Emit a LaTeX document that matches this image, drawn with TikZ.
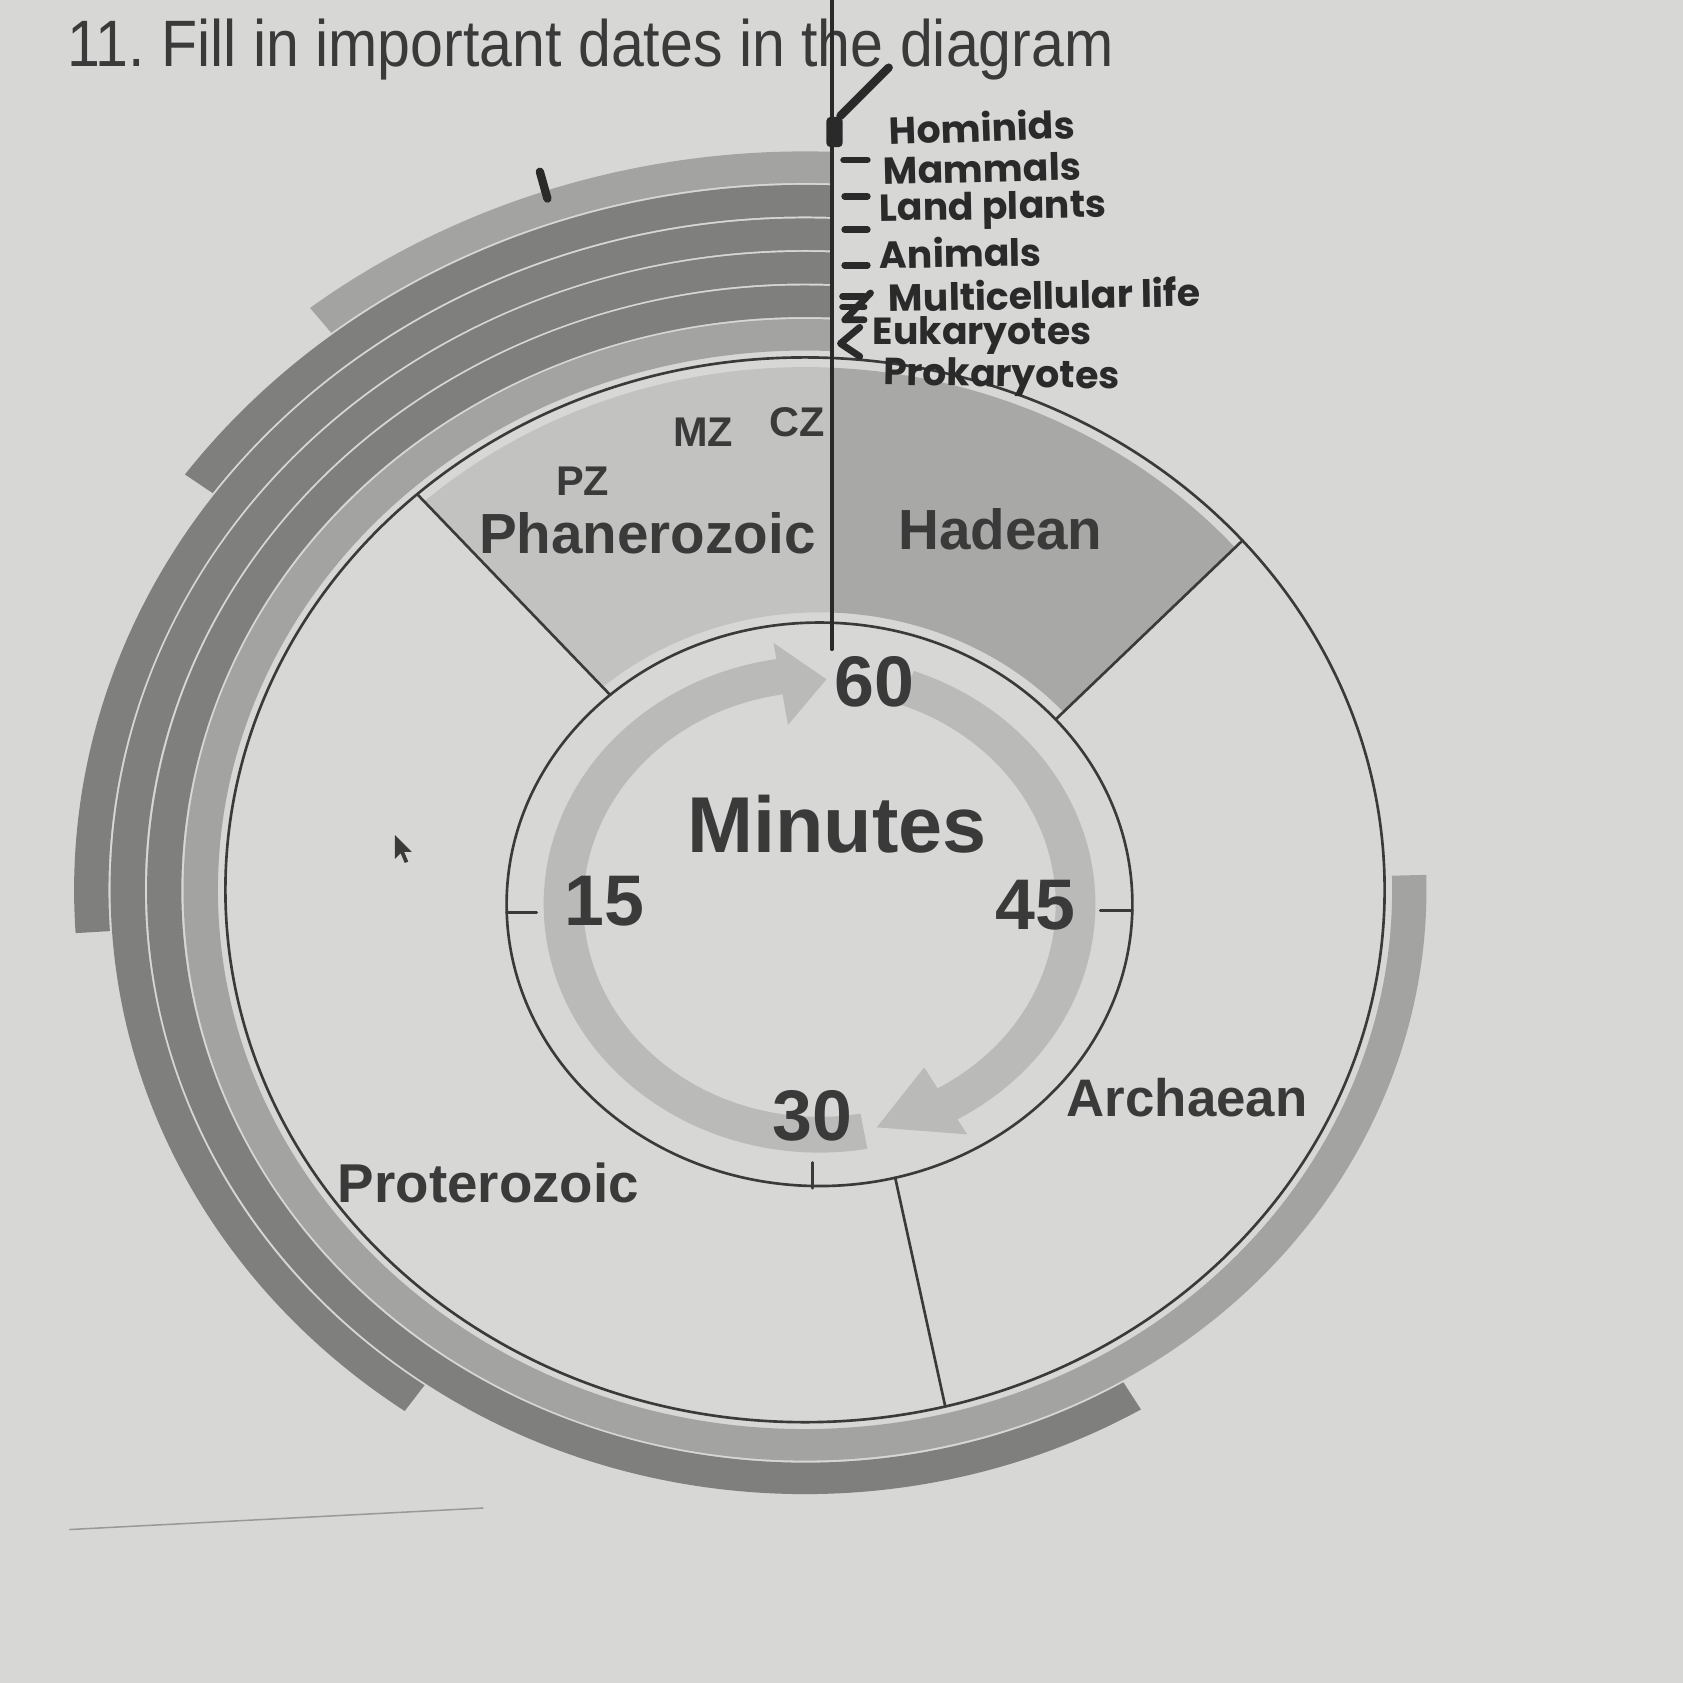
\documentclass[tikz,border=0pt]{standalone}
\usepackage{fontspec}
\setmainfont{Liberation Sans}
\newfontfamily\hand{Poppins}
\usetikzlibrary{calc}
\definecolor{paper}{HTML}{D7D7D5}
\definecolor{ink}{HTML}{3A3A3A}
\definecolor{pen}{HTML}{2A2A2A}
\definecolor{phan}{HTML}{C2C2C0}
\definecolor{hade}{HTML}{A8A8A6}
\definecolor{bandlight}{HTML}{A3A3A1}
\definecolor{banddark}{HTML}{7F7F7D}
\definecolor{ringgray}{HTML}{BABAB8}
\tikzset{
  eralbl/.style={text=ink,font=\bfseries\fontsize{15pt}{18pt}\selectfont},
  sublbl/.style={text=ink,font=\bfseries\fontsize{11pt}{13pt}\selectfont},
  numlbl/.style={text=ink,font=\bfseries\fontsize{19pt}{22pt}\selectfont},
  hnd/.style={text=pen,inner sep=0pt,font=\hand\bfseries\fontsize{10pt}{12pt}\selectfont},
  penline/.style={pen,line width=1.8pt},
}
\begin{document}
\begin{tikzpicture}[line join=round,line cap=round]
\useasboundingbox (0,0) rectangle (15.68,-15.68);
\fill[paper] (0,0) rectangle (15.68,-15.68);
\coordinate (O) at (7.50,-8.29);
\coordinate (I) at (7.635,-8.425);

% era wedges
\fill[phan] ($(O)+(87.5:5.30 and 4.87)$) arc[start angle=87.5,end angle=132,x radius=5.30,y radius=4.87]
  -- ($(I)+(132:3.02 and 2.72)$) arc[start angle=132,end angle=87.5,x radius=3.02,y radius=2.72] -- cycle;
\fill[hade] ($(O)+(41:5.30 and 4.87)$) arc[start angle=41,end angle=87.5,x radius=5.30,y radius=4.87]
  -- ($(I)+(87.5:3.02 and 2.72)$) arc[start angle=87.5,end angle=41,x radius=3.02,y radius=2.72] -- cycle;

% life bands
\begin{scope}[shift={(O)},yscale=0.9185]
\foreach \ri/\ang/\col in {7.17/128/bandlight,6.83/143.9/banddark,6.49/183.7/banddark,
                           6.15/234.8/banddark,5.81/300.7/banddark,5.47/361.5/bandlight}{
  \pgfmathsetmacro\ro{\ri+0.32}
  \pgfmathsetmacro\sa{acos(0.25/\ro)}
  \pgfmathsetmacro\sb{acos(0.25/\ri)}
  \fill[\col] (\sa:\ro) arc (\sa:\ang:\ro) -- (\ang:\ri) arc (\ang:\sb:\ri) -- cycle;
}
\end{scope}

% minutes ring
\begin{scope}[shift={(I)},yscale=0.9]
\fill[ringgray] (70:2.57) arc (70:-60:2.57) -- (-60:2.75) -- (-77:2.37) -- (-60:1.95) -- (-60:2.20) arc (-60:70:2.20) -- cycle;
\fill[ringgray] (-80:2.57) arc (-80:-261:2.57) -- (-261:2.74) -- (-271.6:2.33) -- (-261:1.88) -- (-261:2.20) arc (-261:-80:2.20) -- cycle;
\end{scope}

% circles and era borders
\draw[ink,line width=0.7pt] (O) ellipse [x radius=5.40,y radius=4.96];
\draw[ink,line width=0.7pt] (I) ellipse [x radius=2.915,y radius=2.625];
\coordinate (pin) at ($(I)+(132:2.915 and 2.625)$);
\coordinate (pout) at ($(O)+(132:5.40 and 4.96)$);
\coordinate (hin) at ($(I)+(41:2.915 and 2.625)$);
\coordinate (hout) at ($(O)+(41:5.40 and 4.96)$);
\coordinate (ain) at ($(I)+(-76:2.915 and 2.625)$);
\coordinate (aout) at ($(O)+(-76:5.40 and 4.96)$);
\draw[ink,line width=0.7pt] (pin) -- (pout);
\draw[ink,line width=0.7pt] (hin) -- (hout);
\draw[ink,line width=0.7pt] (ain) -- (aout);
\draw[ink,line width=0.7pt] (7.57,-10.83) -- (7.57,-11.07);
\draw[ink,line width=0.7pt] (4.72,-8.50) -- (5.00,-8.50);
\draw[ink,line width=0.7pt] (10.25,-8.48) -- (10.55,-8.48);

% title
\node[anchor=base west,text=ink,inner sep=0pt,font=\fontsize{17.4pt}{20pt}\selectfont] (title) at (0.62,-0.62)
  {\scalebox{0.9}[1]{11.\ Fill in important dates in the diagram}};

% labels
\node[sublbl] (pz) at (5.43,-4.48) {PZ};
\node[sublbl] (mz) at (6.55,-4.03) {MZ};
\node[sublbl] (cz) at (7.43,-3.93) {CZ};
\node[eralbl] (phanerozoic) at (6.03,-4.97) {Phanerozoic};
\node[eralbl] (hadean) at (9.32,-4.93) {Hadean};
\node[eralbl,font=\bfseries\fontsize{14pt}{16pt}\selectfont] (archaean) at (11.06,-10.23) {Archaean};
\node[eralbl,font=\bfseries\fontsize{14.5pt}{16pt}\selectfont] (proterozoic) at (4.55,-11.02) {Proterozoic};
\node[numlbl,font=\bfseries\fontsize{21pt}{24pt}\selectfont] (minutes) at (7.80,-7.68) {Minutes};
\node[numlbl] (m60) at (8.15,-6.35) {60};
\node[numlbl] (m15) at (5.63,-8.40) {15};
\node[numlbl] (m45) at (9.65,-8.43) {45};
\node[numlbl] (m30) at (7.57,-10.40) {30};

% cursor
\fill[ink,shift={(3.68,-7.78)},scale=0.013] (0,0) -- (0,-17) -- (4,-13) -- (7,-20) -- (9.5,-19) -- (6.5,-12) -- (12,-12) -- cycle;
\draw[gray!80,line width=0.4pt] (0.65,-14.25) -- (4.50,-14.05);

% handwriting
\draw[pen,line width=0.9pt] (7.75,-6.05) -- (7.75,0);
\fill[pen,rounded corners=1pt] (7.70,-1.09) rectangle (7.85,-1.37);
\draw[penline,line width=2.2pt] (7.83,-1.08) -- (8.28,-0.63);
\draw[penline,line width=2.2pt] (5.03,-1.60) -- (5.10,-1.85);
\draw[penline] (7.86,-1.49) -- (8.08,-1.49);
\draw[penline] (7.87,-1.83) -- (8.08,-1.83);
\draw[penline] (7.87,-2.14) -- (8.08,-2.14);
\draw[penline] (7.87,-2.47) -- (8.08,-2.47);
\draw[penline] (7.85,-2.76) -- (8.05,-2.76);
\draw[penline] (7.85,-2.86) -- (8.05,-2.86);
\draw[penline] (8.11,-2.73) -- (7.87,-2.98) -- (8.05,-2.98);
\draw[penline] (8.01,-3.05) -- (7.83,-3.20) -- (8.01,-3.32);
\node[hnd,rotate=2] (hominids) at (9.15,-1.18) {Hominids};
\node[hnd,rotate=1.5] (mammals) at (9.15,-1.57) {Mammals};
\node[hnd,rotate=1] (landplants) at (9.25,-1.96) {Land plants};
\node[hnd,rotate=1] (animals) at (8.95,-2.35) {Animals};
\node[hnd,rotate=1] (multicell) at (9.73,-2.74) {Multicellular life};
\node[hnd] (eukaryotes) at (9.15,-3.13) {Eukaryotes};
\node[hnd,rotate=-1] (prokaryotes) at (9.33,-3.52) {Prokaryotes};
\end{tikzpicture}
\end{document}
